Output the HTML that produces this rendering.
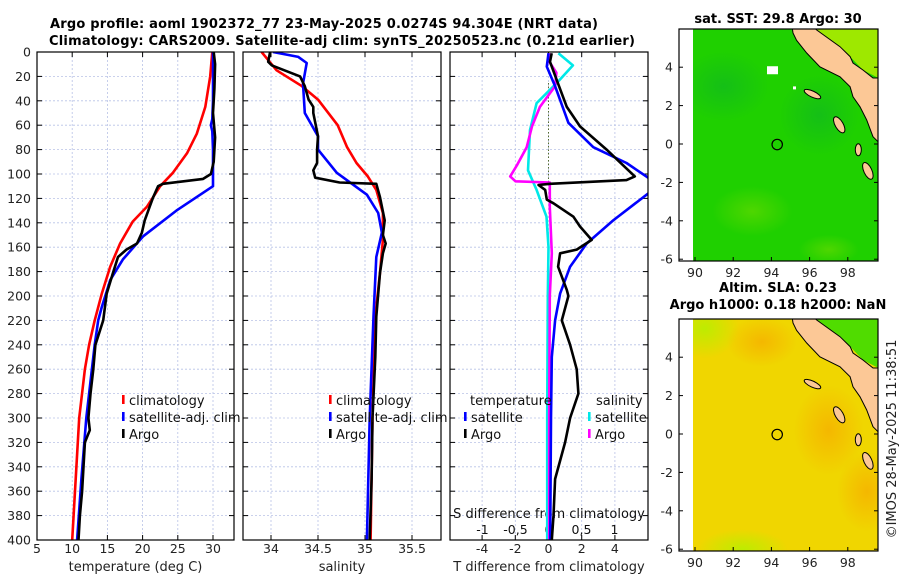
<!DOCTYPE html>
<html><head><meta charset="utf-8"><style>
html,body{margin:0;padding:0;background:#fff;}
svg{display:block;font-family:"DejaVu Sans","Liberation Sans",sans-serif;}
</style></head><body>
<svg id="fig" width="900" height="580" viewBox="0 0 900 580" xmlns="http://www.w3.org/2000/svg">
<defs>
<clipPath id="c1"><rect x="37" y="52" width="197" height="488"/></clipPath>
<clipPath id="c2"><rect x="243" y="52" width="198" height="488"/></clipPath>
<clipPath id="c3"><rect x="450" y="52" width="198" height="488"/></clipPath>
<clipPath id="cm1"><rect x="693" y="29" width="185" height="232"/></clipPath>
<clipPath id="cm2"><rect x="693" y="319" width="185" height="232"/></clipPath>
<radialGradient id="or1" cx="0.5" cy="0.5" r="0.5"><stop offset="0" stop-color="#f5b400" stop-opacity="0.9"/><stop offset="1" stop-color="#f5b400" stop-opacity="0"/></radialGradient>
<radialGradient id="gy1" cx="0.5" cy="0.5" r="0.5"><stop offset="0" stop-color="#b8ee00" stop-opacity="0.9"/><stop offset="1" stop-color="#b8ee00" stop-opacity="0"/></radialGradient>
<radialGradient id="lg1" cx="0.5" cy="0.5" r="0.5"><stop offset="0" stop-color="#5ad800" stop-opacity="0.8"/><stop offset="1" stop-color="#5ad800" stop-opacity="0"/></radialGradient>
<radialGradient id="dg1" cx="0.5" cy="0.5" r="0.5"><stop offset="0" stop-color="#10b820" stop-opacity="0.7"/><stop offset="1" stop-color="#10b820" stop-opacity="0"/></radialGradient>
</defs>
<text x="50" y="28" font-size="13" font-weight="bold" textLength="548">Argo profile: aoml 1902372_77 23-May-2025 0.0274S 94.304E (NRT data)</text>
<text x="49" y="45" font-size="13" font-weight="bold" textLength="586">Climatology: CARS2009. Satellite-adj clim: synTS_20250523.nc (0.21d earlier)</text>
<g id="panels"></g>
<g id="maps"></g>
<text transform="translate(896,439) rotate(-90)" text-anchor="middle" font-size="13" fill="#222">©IMOS 28-May-2025 11:38:51</text>
</svg>
<script>
// ---------- data ----------
const depthTicks=[0,20,40,60,80,100,120,140,160,180,200,220,240,260,280,300,320,340,360,380,400];
const tempTicks=[5,10,15,20,25,30];
const salTicks=[34,34.5,35,35.5];
const salTickLabels=['34','34.5','35','35.5'];
const tdiffTicks=[-4,-2,0,2,4];
const sdiffTicks=[-1,-0.5,0,0.5,1];
const sdiffTickLabels=['-1','-0,5','0','0,5','1'];

const climTdep=[0,20,45,67,83,99,110,127,139,157,176,198,220,240,260,300,350,400];
const climT=[29.9,29.6,28.9,27.7,26.3,24.3,22.5,20.6,18.6,16.8,15.4,14.2,13.2,12.4,11.8,11.0,10.5,10.0];
const satTdep=[0,40,55,60,65,80,100,110,130,151,170,187,209,220,240,260,300,350,400];
const satT=[30,30,29.9,29.7,29.9,30,30,30,24.8,20.1,17.2,15.4,14.2,13.7,13.2,12.8,12.0,11.3,10.7];
const argoTdep=[0,10,30,50,70,90,100,104,108,110,119,127,138,148,157,162,168,181,198,220,240,260,280,300,310,320,340,360,380,400];
const argoT=[30.1,30.3,30.2,30.0,30.3,30.1,29.7,28.6,22.9,22.2,21.5,21.0,20.3,19.9,19.2,17.7,16.5,15.8,14.9,14.4,13.3,13.0,12.6,12.3,12.5,11.8,11.6,11.4,11.1,10.9];

const climSdep=[0,15,28,39,60,78,91,102,113,132,154,181,217,300,400];
const climS=[33.90,34.06,34.33,34.50,34.71,34.81,34.91,35.03,35.12,35.19,35.19,35.16,35.11,35.08,35.06];
const satSdep=[0,4,9,26,50,69,80,99,117,132,148,168,217,300,400];
const satS=[34.02,34.29,34.38,34.34,34.36,34.50,34.50,34.70,35.02,35.14,35.18,35.12,35.09,35.05,35.02];
const argoSdep=[0,8,11,20,28,39,45,50,69,80,91,97,103,107,108,119,138,150,157,165,181,217,250,300,350,400];
const argoS=[33.99,33.97,34.01,34.31,34.36,34.40,34.45,34.45,34.50,34.49,34.49,34.45,34.47,34.73,35.12,35.16,35.21,35.19,35.22,35.19,35.16,35.12,35.11,35.08,35.07,35.05];

const argoTdiffDep=[1,8,26,45,61,80,102,105,108,109,113,121,124,135,143,154,162,165,176,195,200,220,240,260,280,300,320,350,380,400];
const argoTdiff=[0.19,0.09,0.58,1.1,1.9,3.5,5.2,4.7,0.09,-0.6,-0.2,-0.1,0.3,1.5,1.9,2.6,1.7,0.7,0.58,1.1,1.2,0.8,1.3,1.7,1.8,1.3,1.0,0.4,0.3,0.2];
const satTdiffDep=[1,12,28,58,78,91,103,110,116,138,157,176,198,220,250,300,400];
const satTdiff=[0,-0.1,0.4,1.2,2.7,4.7,6.0,7.0,6.0,3.9,2.3,1.3,0.7,0.4,0.2,0.15,0.1];
const satSdiffDep=[1,11,24,42,64,97,113,135,160,200,300,400];
const satSdiff=[0.15,0.37,0.15,-0.18,-0.28,-0.31,-0.18,-0.03,0,-0.01,-0.02,-0.02];
const argoSdiffDep=[1,7,17,28,45,61,78,93,102,106,107,127,165,200,300,400];
const argoSdiff=[0.02,0,0.12,0.10,-0.13,-0.25,-0.33,-0.48,-0.58,-0.5,0.02,0.02,0.05,0.02,0.01,0.01];

const mapLonTicks=[90,92,94,96,98];
const mapLatTicks=[4,2,0,-2,-4,-6];
const argoLon=94.304, argoLat=-0.0274;
const landLon=[95.1,95.13,95.32,95.85,96.54,97.59,98.12,98.27,98.64,98.99,99.32,99.6,99.6,99.32,98.8,98.27,98.12,97.59,96.37,96.3];
const landLat=[6.0,5.78,5.4,4.74,4.02,3.5,2.98,2.46,1.94,1.25,0.38,0.1,3.44,3.44,3.85,4.22,4.55,5.07,5.94,6.0];

// ---------- helpers ----------
const NS='http://www.w3.org/2000/svg';
function mk(tag,attrs,parent){const e=document.createElementNS(NS,tag);for(const k in attrs)e.setAttribute(k,attrs[k]);if(parent)parent.appendChild(e);return e;}
const yD=d=>52+d*1.22;
const xTemp=t=>37+(t-5)*7.04;
const xSal=s=>271+(s-34)*94;
const xTd=v=>548.5+v*16.6;
const xSd=v=>548.5+v*66;
const panels=document.getElementById('panels');

function frame(x0,x1,name,xticks,xf){
  const g=mk('g',{},panels);
  
  
  depthTicks.forEach(d=>{mk('line',{x1:x0,x2:x1,y1:yD(d),y2:yD(d),stroke:'#b8c2e6','stroke-width':0.8,'stroke-dasharray':'2,2'},g);});
  xticks.forEach(v=>{mk('line',{x1:xf(v),x2:xf(v),y1:52,y2:540,stroke:'#b8c2e6','stroke-width':0.8,'stroke-dasharray':'2,2'},g);});
  depthTicks.forEach(d=>{
    mk('line',{x1:x0,x2:x0+5,y1:yD(d),y2:yD(d),stroke:'#000'},g);
    mk('line',{x1:x1-5,x2:x1,y1:yD(d),y2:yD(d),stroke:'#000'},g);
  });
  xticks.forEach(v=>{
    mk('line',{x1:xf(v),x2:xf(v),y1:540,y2:535,stroke:'#000'},g);
    mk('line',{x1:xf(v),x2:xf(v),y1:52,y2:57,stroke:'#000'},g);
  });
  return g;
}
function drawLine(g,clip,deps,vals,xf,color,name){
  const pts=deps.map((d,i)=>xf(vals[i]).toFixed(1)+','+yD(d).toFixed(1)).join(' ');
  const p=mk('polyline',{points:pts,fill:'none',stroke:color,'stroke-width':2.6,'stroke-linejoin':'round','clip-path':'url(#'+clip+')'},g);
  
  
}
function border(g,x0,x1){mk('rect',{x:x0,y:52,width:x1-x0,height:488,fill:'none',stroke:'#000','stroke-width':1.2},g);}
function txt(g,x,y,s,attrs,name){const t=mk('text',Object.assign({x:x,y:y,'font-size':12.5},attrs||{}),g);t.textContent=s;return t;}
function legendItem(g,x,y,color,label,name){
  const grp=mk('g',{},g);
  
  
  if(color) mk('rect',{x:x-7,y:y-10,width:2.6,height:9,fill:color},grp);
  txt(grp,x,y,label,{'font-size':13,fill:'#111'},name+'-label');
}

// panel 1
let g1=frame(37,234,'temperature-panel',tempTicks,xTemp);
depthTicks.forEach(d=>txt(g1,31,yD(d)+4.5,String(d),{'text-anchor':'end',fill:'#222'},'depth-tick-label'));
tempTicks.forEach(v=>txt(g1,xTemp(v),553,String(v),{'text-anchor':'middle',fill:'#222'},'temp-tick-label'));
txt(g1,135.5,571,'temperature (deg C)',{'text-anchor':'middle','font-size':13,fill:'#222'},'x-axis-title-temperature');
drawLine(g1,'c1',climTdep,climT,xTemp,'#ff0000','climatology-temp-line');
drawLine(g1,'c1',satTdep,satT,xTemp,'#0000ff','satellite-temp-line');
drawLine(g1,'c1',argoTdep,argoT,xTemp,'#000000','argo-temp-line');
legendItem(g1,129,405,'#ff0000','climatology','legend-climatology');
legendItem(g1,129,422,'#0000ff','satellite-adj. clim','legend-satellite');
legendItem(g1,129,439,'#000000','Argo','legend-argo');
border(g1,37,234);

// panel 2
let g2=frame(243,441,'salinity-panel',salTicks,xSal);
salTicks.forEach((v,i)=>txt(g2,xSal(v),553,salTickLabels[i],{'text-anchor':'middle',fill:'#222'},'sal-tick-label'));
txt(g2,342,571,'salinity',{'text-anchor':'middle','font-size':13,fill:'#222'},'x-axis-title-salinity');
drawLine(g2,'c2',climSdep,climS,xSal,'#ff0000','climatology-sal-line');
drawLine(g2,'c2',satSdep,satS,xSal,'#0000ff','satellite-sal-line');
drawLine(g2,'c2',argoSdep,argoS,xSal,'#000000','argo-sal-line');
legendItem(g2,336,405,'#ff0000','climatology','legend-climatology-2');
legendItem(g2,336,422,'#0000ff','satellite-adj. clim','legend-satellite-2');
legendItem(g2,336,439,'#000000','Argo','legend-argo-2');
border(g2,243,441);

// panel 3
let g3=frame(450,648,'difference-panel',tdiffTicks,xTd);
tdiffTicks.forEach(v=>txt(g3,xTd(v),553,String(v),{'text-anchor':'middle',fill:'#222'},'tdiff-tick-label'));
sdiffTicks.forEach((v,i)=>txt(g3,xSd(v),534,sdiffTickLabels[i],{'text-anchor':'middle',fill:'#111'},'sdiff-tick-label'));
txt(g3,549,571,'T difference from climatology',{'text-anchor':'middle','font-size':13,fill:'#222'},'x-axis-title-tdiff');
txt(g3,549,518,'S difference from climatology',{'text-anchor':'middle','font-size':13,fill:'#111'},'s-axis-title-sdiff');
mk('line',{x1:548.5,x2:548.5,y1:83,y2:184,stroke:'#556b2f','stroke-width':1,'stroke-dasharray':'1.5,2'},g3);
drawLine(g3,'c3',satSdiffDep,satSdiff,xSd,'#00e8e8','satellite-sdiff-line');
drawLine(g3,'c3',argoSdiffDep,argoSdiff,xSd,'#ff00ff','argo-sdiff-line');
drawLine(g3,'c3',satTdiffDep,satTdiff,xTd,'#0000ff','satellite-tdiff-line');
drawLine(g3,'c3',argoTdiffDep,argoTdiff,xTd,'#000000','argo-tdiff-line');
legendItem(g3,470,405,null,'temperature','legend-temperature-header');
legendItem(g3,471,422,'#0000ff','satellite','legend-t-satellite');
legendItem(g3,471,439,'#000000','Argo','legend-t-argo');
legendItem(g3,596,405,null,'salinity','legend-salinity-header');
legendItem(g3,595,422,'#00e8e8','satellite','legend-s-satellite');
legendItem(g3,595,439,'#ff00ff','Argo','legend-s-argo');
border(g3,450,648);

// ---------- maps ----------
const maps=document.getElementById('maps');
function drawMap(top,name,title1,title2,kind){
  const lonX=l=>695+(l-90)*19.1;
  const zeroY=top+115;
  const latY=a=>zeroY-a*19.2;
  const g=mk('g',{},maps);
  
  
  const clip=kind==='sst'?'cm1':'cm2';
  const cg=mk('g',{'clip-path':'url(#'+clip+')'},g);
  if(kind==='sst'){
    mk('rect',{x:693,y:top,width:185,height:232,fill:'#1fd000'},cg);
    mk('ellipse',{cx:lonX(91.5),cy:latY(3),rx:45,ry:35,fill:'url(#dg1)'},cg);
    mk('ellipse',{cx:lonX(96.5),cy:latY(1.5),rx:40,ry:40,fill:'url(#dg1)'},cg);
    mk('ellipse',{cx:lonX(93),cy:latY(-3.5),rx:40,ry:25,fill:'url(#lg1)'},cg);
    mk('ellipse',{cx:lonX(97),cy:latY(-5.5),rx:30,ry:15,fill:'url(#lg1)'},cg);
    mk('polygon',{points:[[96.3,6],[99.6,6],[99.6,3.44],[98.8,3.85],[98.12,4.55],[97.59,5.07]].map(p=>lonX(p[0])+','+latY(p[1])).join(' '),fill:'#9ee800'},cg);
    mk('rect',{x:767,y:latY(4.05),width:11,height:8,fill:'#fff'},cg);
    mk('rect',{x:793,y:latY(3.0),width:3,height:3,fill:'#fff'},cg);
  } else {
    mk('rect',{x:693,y:top,width:185,height:232,fill:'#f0d600'},cg);
    mk('ellipse',{cx:lonX(90.5),cy:latY(5.5),rx:35,ry:30,fill:'url(#gy1)'},cg);
    mk('ellipse',{cx:lonX(92.5),cy:latY(-6),rx:45,ry:20,fill:'url(#gy1)'},cg);
    mk('ellipse',{cx:lonX(97),cy:latY(0.2),rx:35,ry:45,fill:'url(#or1)'},cg);
    mk('ellipse',{cx:lonX(99),cy:latY(-3),rx:30,ry:40,fill:'url(#or1)'},cg);
    mk('ellipse',{cx:lonX(93.5),cy:latY(4.8),rx:35,ry:25,fill:'url(#or1)'},cg);
    mk('polygon',{points:[[96.3,6],[99.6,6],[99.6,3.44],[98.8,3.85],[98.12,4.55],[97.59,5.07]].map(p=>lonX(p[0])+','+latY(p[1])).join(' '),fill:'#50dc00'},cg);
  }
  const land=mk('polygon',{points:landLon.map((l,i)=>lonX(l).toFixed(1)+','+latY(landLat[i]).toFixed(1)).join(' '),fill:'#fcc896',stroke:'#000','stroke-width':1},cg);
  
  
  [[96.15,2.6,9,3,25],[97.55,1.0,4,9,-30],[98.55,-0.3,3,6,0],[99.05,-1.4,4,9,-25]].forEach(p=>{
    const e=mk('ellipse',{cx:lonX(p[0]),cy:latY(p[1]),rx:p[2],ry:p[3],transform:'rotate('+p[4]+' '+lonX(p[0])+' '+latY(p[1])+')',fill:'#fcc896',stroke:'#000','stroke-width':1},cg);
    
    
  });
  const c=mk('circle',{cx:lonX(argoLon),cy:latY(argoLat),r:5.2,fill:'none',stroke:'#000','stroke-width':1.2},g);
  
  
  mk('rect',{x:679,y:top,width:199,height:232,fill:'none',stroke:'#000','stroke-width':1.2},g);
  mapLonTicks.forEach(l=>{
    mk('line',{x1:lonX(l),x2:lonX(l),y1:top+232,y2:top+228,stroke:'#000'},g);
    txt(g,lonX(l),top+248,String(l),{'text-anchor':'middle',fill:'#222'},'lon-tick-label');
  });
  mapLatTicks.forEach(a=>{
    mk('line',{x1:679,x2:683,y1:latY(a),y2:latY(a),stroke:'#000'},g);
    mk('line',{x1:874,x2:878,y1:latY(a),y2:latY(a),stroke:'#000'},g);
    txt(g,673,latY(a)+4.5,String(a),{'text-anchor':'end',fill:'#222'},'lat-tick-label');
  });
  if(title2){
    txt(g,778,top-27,title1,{'text-anchor':'middle','font-size':13,'font-weight':'bold'},'map-title');
    txt(g,778,top-10,title2,{'text-anchor':'middle','font-size':13,'font-weight':'bold'},'map-subtitle');
  } else {
    txt(g,778,top-6,title1,{'text-anchor':'middle','font-size':13,'font-weight':'bold'},'map-title');
  }
}
drawMap(29,'sst-map','sat. SST: 29.8 Argo: 30',null,'sst');
drawMap(319,'sla-map','Altim. SLA: 0.23','Argo h1000: 0.18 h2000: NaN','sla');
</script>
</body></html>
